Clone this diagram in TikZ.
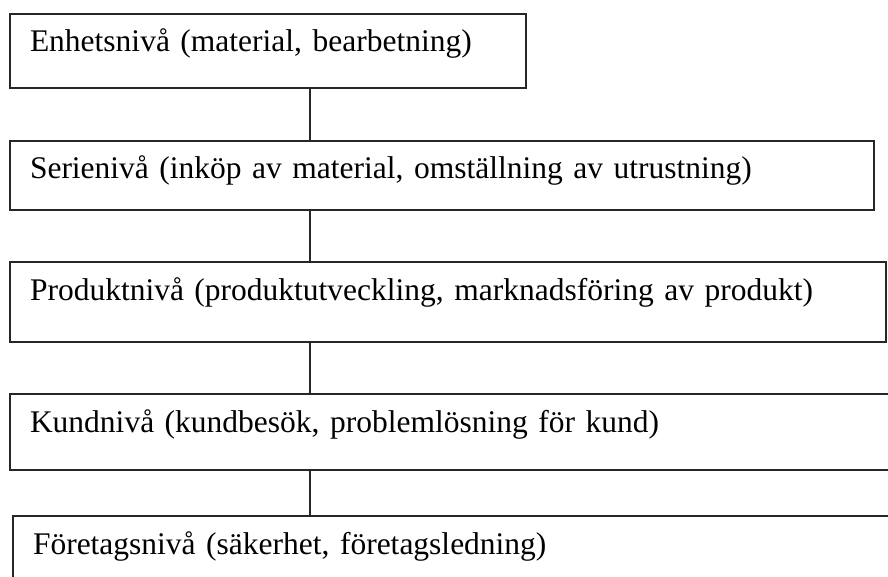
\documentclass[tikz,border=0pt]{standalone}
\usepackage{fontspec}
\setmainfont{Liberation Serif}
\usetikzlibrary{positioning}

\begin{document}
\begin{tikzpicture}[
    x=1pt, y=-1pt,
    level/.style={rectangle, draw=black!85, line width=1.7pt, anchor=north west,
                  outer sep=0pt, inner xsep=20pt, inner ysep=0pt, text height=38pt,
                  align=left, font=\fontsize{31.5}{36}\selectfont},
    link/.style={draw=black!85, line width=1.7pt}
]
    \useasboundingbox (0,0) rectangle (888,577);
    \clip (0,0) rectangle (888,577);

    % Levels, top to bottom
    \node[level, text width=476pt, text depth=36pt] (enhet) at (10,14)
        {Enhetsnivå (material, bearbetning)};
    \node[level, text width=824pt, text depth=31pt] (serie) at (10,141)
        {Serienivå (inköp av material, omställning av utrustning)};
    \node[level, text width=836pt, text depth=42pt] (produkt) at (10,262)
        {Produktnivå (produktutveckling, marknadsföring av produkt)};
    \node[level, text width=850pt, text depth=38pt] (kund) at (10,394)
        {Kundnivå (kundbesök, problemlösning för kund)};
    \node[level, text width=850pt, text depth=45pt] (foretag) at (13,516)
        {Företagsnivå (säkerhet, företagsledning)};

    % Vertical links
    \coordinate (spine) at (310,0);
    \foreach \a/\b in {enhet/serie, serie/produkt, produkt/kund, kund/foretag} {
        \draw[link] (\a.south -| spine) -- (\b.north -| spine);
    }
\end{tikzpicture}
\end{document}
